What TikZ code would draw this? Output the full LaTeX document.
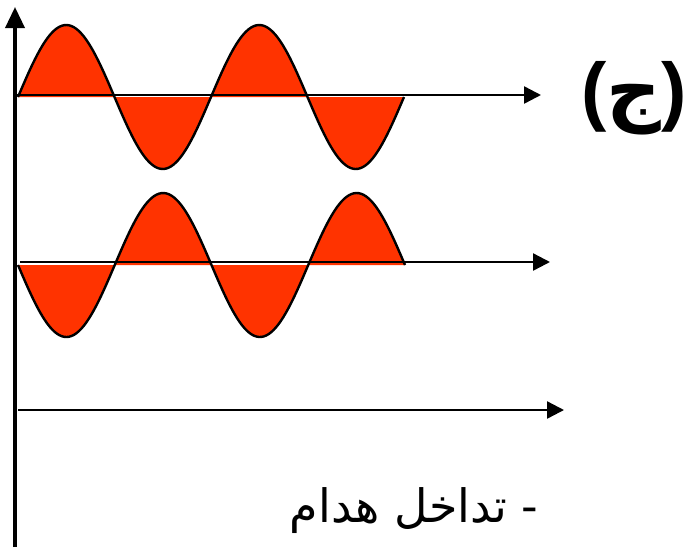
\documentclass[tikz,border=0pt]{standalone}
\usepackage{fontspec}
\setmainfont{Liberation Sans}
\newfontfamily\arabicfont[Script=Arabic]{DejaVu Sans}
\TeXXeTstate=1
\usetikzlibrary{arrows.meta}
\definecolor{wavered}{RGB}{255,51,0}
\tikzset{
  axisline/.style={line width=2.4pt,-{Triangle[length=17pt,width=17pt]}},
  wavefill/.style={fill=wavered},
  waveline/.style={line width=2.4pt},
}

\begin{document}
\begin{tikzpicture}[x=1pt,y=-1pt,line join=round]
  \useasboundingbox (0,0) rectangle (687,547);

  % Vertical axis
  \coordinate (vbot) at (15,547);
  \coordinate (vtop) at (15,7);

  % Upper wave: starts with a crest
  \fill[wavefill] plot[domain=18:404,samples=160] (\x,{97-72*sin((\x-18)/96.5*180)}) -- cycle;
  \draw[waveline] plot[domain=18:404,samples=160] (\x,{97-72*sin((\x-18)/96.5*180)});
  \coordinate (upstart) at (13,95);
  \coordinate (upend) at (541,95);
  \draw[axisline] (upstart) -- (upend);

  % Lower wave: opposite phase, starts with a trough
  \fill[wavefill] plot[domain=18:405,samples=160] (\x,{265+72*sin((\x-18)/96.75*180)}) -- cycle;
  \draw[waveline] plot[domain=18:405,samples=160] (\x,{265+72*sin((\x-18)/96.75*180)});
  \coordinate (lowstart) at (20,262);
  \coordinate (lowend) at (550,262);
  \draw[axisline] (lowstart) -- (lowend);

  % Resultant: nothing left
  \coordinate (sumstart) at (18,410);
  \coordinate (sumend) at (564,410);
  \draw[axisline] (sumstart) -- (sumend);

  \draw[line width=3.6pt,-{Triangle[length=21pt,width=19pt]}] (vbot) -- (vtop);

  % Labels
  \node[font=\fontsize{76}{80}\selectfont\bfseries] (partlabel) at (634,98) {({\arabicfont ج})};
  \node[anchor=base east,font=\fontsize{46}{50}\selectfont] (caption) at (542,522) {\arabicfont\beginR - تداخل هدام\endR};
\end{tikzpicture}
\end{document}
